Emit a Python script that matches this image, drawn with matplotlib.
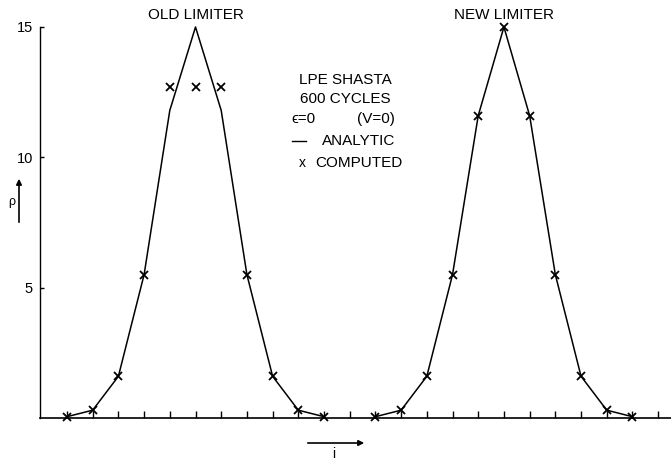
import numpy as np
import matplotlib
matplotlib.use("Agg")
import matplotlib.pyplot as plt

plt.rcParams['font.family'] = ['Liberation Sans', 'DejaVu Sans']

# grid index of the points (two profiles side by side)
i_old = np.arange(0, 11)
i_new = np.arange(12, 23)

# analytic profile
analytic_old = [0.05, 0.3, 1.6, 5.5, 11.8, 15.0, 11.8, 5.5, 1.6, 0.3, 0.05]
analytic_new = [0.05, 0.3, 1.6, 5.5, 11.6, 15.0, 11.6, 5.5, 1.6, 0.3, 0.05]

# computed values
computed_old = [0.05, 0.3, 1.6, 5.5, 12.7, 12.7, 12.7, 5.5, 1.6, 0.3, 0.05]
computed_new = [0.05, 0.3, 1.6, 5.5, 11.6, 15.0, 11.6, 5.5, 1.6, 0.3, 0.05]

W, H = 671, 461
fig = plt.figure(figsize=(W / 100, H / 100), dpi=100)
x0, x1 = 40, 671
y0, y1 = 418, 27
ax = fig.add_axes([x0 / W, 1 - y0 / H, (x1 - x0) / W, (y0 - y1) / H])

ax.set_xlim(-1.05, 23.5)
ax.set_ylim(0, 15)

for xs, an, cp in [(i_old, analytic_old, computed_old), (i_new, analytic_new, computed_new)]:
    ax.plot(xs, an, color='black', lw=1.1, clip_on=False)
    ax.plot(xs, cp, 'x', color='black', ms=5.5, mew=1.3, clip_on=False)

for s in ['top', 'right']:
    ax.spines[s].set_visible(False)
ax.spines['left'].set_linewidth(1.0)
ax.spines['bottom'].set_linewidth(1.2)

ax.set_xticks(np.arange(0, 24))
ax.set_xticklabels([])
ax.tick_params(axis='x', direction='in', length=5, width=1.0)
ax.set_yticks([5, 10, 15])
ax.set_yticklabels(['5', '10', '15'])
ax.tick_params(axis='y', direction='in', length=3, width=1.0, labelsize=10.5, pad=5)

ax.text(5, 15.2, 'OLD LIMITER', ha='center', va='bottom', fontsize=11)
ax.text(17, 15.2, 'NEW LIMITER', ha='center', va='bottom', fontsize=11)

# legend block typed as text
fs = 11
fig.text(345 / W, 1 - 80 / H, 'LPE SHASTA', ha='center', va='center', fontsize=fs)
fig.text(345 / W, 1 - 99 / H, '600 CYCLES', ha='center', va='center', fontsize=fs)
fig.text(291 / W, 1 - 119 / H, '\u03f5=0', ha='left', va='center', fontsize=fs)
fig.text(357 / W, 1 - 119 / H, '(V=0)', ha='left', va='center', fontsize=fs)
fig.add_artist(plt.Line2D([292 / W, 306 / W], [1 - 141 / H, 1 - 141 / H], color='black', lw=1.0))
fig.text(322 / W, 1 - 141 / H, 'ANALYTIC', ha='left', va='center', fontsize=fs)
fig.text(302 / W, 1 - 163 / H, 'x', ha='center', va='center', fontsize=10)
fig.text(315 / W, 1 - 163 / H, 'COMPUTED', ha='left', va='center', fontsize=fs)

# rho label with arrow
fig.text(12 / W, 1 - 202 / H, '\u03c1', ha='center', va='center', fontsize=9)
fig.add_artist(matplotlib.patches.FancyArrowPatch((19 / W, 1 - 225 / H), (19 / W, 1 - 176 / H),
                                                  transform=fig.transFigure, arrowstyle='-|>',
                                                  mutation_scale=8, lw=1.2, color='black'))
# i label with arrow
fig.add_artist(matplotlib.patches.FancyArrowPatch((305 / W, 1 - 443 / H), (367 / W, 1 - 443 / H),
                                                  transform=fig.transFigure, arrowstyle='-|>',
                                                  mutation_scale=8, lw=1.2, color='black'))
fig.text(334 / W, 1 - 454 / H, 'i', ha='center', va='center', fontsize=10)

fig.savefig('out.png', dpi=100)
